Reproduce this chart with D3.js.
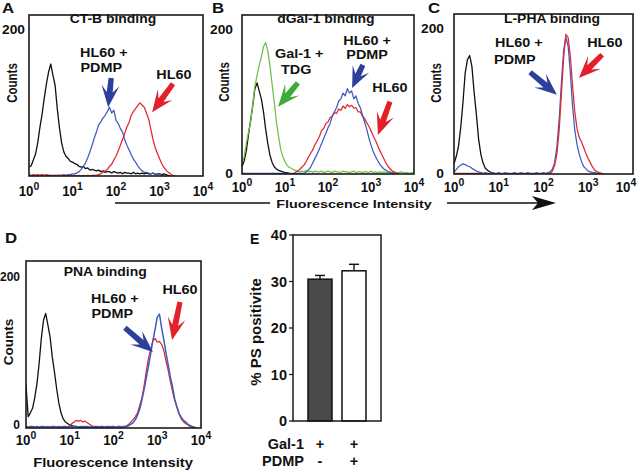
<!DOCTYPE html>
<html><head><meta charset="utf-8">
<script src="https://cdn.jsdelivr.net/npm/d3@7"></script>
<style>
html,body{margin:0;padding:0;background:#fff;}
svg{display:block;}
text{font-family:"Liberation Sans",Arial,sans-serif;font-weight:bold;fill:#111;}
</style></head><body>
<svg id="c" width="640" height="470"></svg>
<script>
// ---------- DATA ----------
// Histogram counts per bin; bin i sits at fluorescence 10^(i*binStep)
const binStep = 0.05;
const xTickValues = [1, 10, 100, 1000, 10000];

// Panel A : CT-B binding
const aBlack = [12,14,22,30,45,66,84,106,126,142,153,138,124,92,66,45,33,27,24,20,19,17,16,13,12,13,10,11,8,9,8,7,8,6,7,5,6,6,4,6,5,4,5,3,5,4,4,3,5,3,4,3,4,3,4,3,3,4,2,3,3,2,3,2,1,0];
const aBlue  = [1,0,1,1,0,1,1,0,1,1,1,0,1,1,1,1,2,1,2,2,3,3,4,6,9,13,18,25,33,42,52,60,70,74,79,83,88,94,86,90,76,72,65,60,50,42,36,29,23,19,14,10,7,5,5,4,3,4,2,3,2,1,0];
const aRed   = [2,1,2,1,2,1,2,1,2,1,1,1,1,1,1,1,0,1,0,1,0,1,0,1,0,1,0,1,0,1,1,1,2,3,5,7,9,13,16,22,27,34,42,50,58,67,73,83,88,92,96,100,97,94,86,78,64,50,39,31,24,17,12,8,5,3,1,0];

// Panel B : dGal-1 binding
const bBlack = [10,18,32,54,74,95,118,126,115,104,86,62,42,26,16,10,7,5,4,3,2,2,1,0];
const bGreen = [14,24,42,58,72,95,122,136,150,162,176,182,170,150,124,100,72,52,34,24,17,12,9,8,6,5,4,3,4,3,5,3,4,2,4,3,3,4,2,3,4,3,2,4,3,3,2,4,3,3,2,3,4,2,3,3,2,3,3,2,4,2,3,2,3,2,3,2,2,3,2,3,2,2,3,2,2,2,1,2,1];
const bBlue  = [1,1,1,1,1,1,1,1,1,1,1,1,1,1,1,1,1,1,1,1,1,1,1,1,1,1,1,1,1,1,3,6,10,16,22,28,35,42,49,56,64,70,80,86,92,101,104,112,108,118,112,115,104,108,98,92,82,72,62,50,40,31,25,19,14,10,7,5,3,2,1,0];
const bRed   = [0,0,0,0,0,0,0,0,0,0,0,0,0,0,0,0,0,0,0,0,0,0,0,0,0,3,4,7,10,13,18,24,29,34,41,46,52,60,63,70,72,78,80,85,84,90,88,94,91,96,93,95,91,92,86,86,80,77,71,66,60,53,47,40,33,27,21,15,10,7,4,2,1,0];

// Panel C : L-PHA binding
const cBlack = [14,24,38,64,98,139,157,163,148,112,82,48,27,15,8,5,3,2,1,0];
const cBlue  = [3,6,10,12,14,13,11,10,8,6,4,3,2,1,2,1,1,2,1,1,2,1,1,2,1,1,1,2,1,1,2,1,1,2,1,1,1,2,1,1,2,1,2,3,7,16,38,75,125,170,188,176,139,93,60,40,27,17,10,7,4,3,2,2,1,0];
const cRed   = [1,1,1,1,1,1,1,1,1,1,1,1,1,0,0,0,0,0,0,0,0,0,0,0,0,0,0,0,0,0,0,0,0,0,0,0,0,0,0,0,0,0,0,1,4,12,28,60,110,160,192,188,162,121,85,62,50,44,36,28,21,15,9,5,3,2,1,0];

// Panel D : PNA binding
const dBlack = [57,15,20,26,40,58,85,118,142,151,136,120,94,74,52,33,20,12,8,6,4,3,2,2,1,1,2,1,1,1,0,1,1,0,1,0,1,0,0,1,0];
const dBlue  = [2,1,2,2,1,2,1,2,2,1,2,1,2,2,1,2,1,2,2,1,2,1,2,2,1,2,1,2,2,1,2,1,2,2,1,2,1,2,2,1,2,1,2,2,1,2,2,3,5,7,11,17,25,37,51,66,82,98,115,130,146,150,132,116,99,83,67,54,38,28,19,14,10,8,5,3,2,1,0];
const dRed   = [1,1,1,1,1,1,1,1,1,1,1,1,1,1,1,1,1,1,1,1,3,6,8,10,9,10,8,9,7,5,3,2,2,1,2,2,1,2,1,2,2,1,2,1,2,2,3,5,8,11,15,20,30,40,56,75,92,104,115,118,113,114,110,102,88,76,61,48,36,27,18,12,8,6,4,2,1,0];

// Panel E : % PS positive
const eGroups   = ['HL60', 'HL60 + PDMP'];
const eValues   = [30.5, 32.3];
const eErrors   = [0.8, 1.4];
const eTicks    = [0, 10, 20, 30, 40];
const eGal1     = ['+', '+'];
const ePDMP     = ['-', '+'];

// ---------- STYLE ----------
const BLACK = '#111', BLUE = '#3d5cbc', RED = '#e4262d', GREEN = '#6cc04a';
const BLUE_A = '#2d3f9a', RED_A = '#e2202a', GREEN_A = '#3dab3a';

const svg = d3.select('#c');

function T(parent, x, y, s, o = {}) {
  const t = parent.append('text')
    .attr('transform', `translate(${x},${y}) scale(${o.sx || 1},1)` + (o.rot ? ` rotate(${o.rot})` : ''))
    .attr('text-anchor', o.anchor || 'middle')
    .style('font-size', (o.fs || 12) + 'px');
  if (o.dy) t.attr('dy', o.dy);
  if (o.fill) t.style('fill', o.fill);
  t.text(s);
  return t;
}

function arrowPath(x1, y1, x2, y2) { // tail -> tip
  const L = Math.hypot(x2 - x1, y2 - y1), a = Math.atan2(y2 - y1, x2 - x1);
  const wb = Math.min(22, 0.82 * L), nb = Math.min(15, 0.56 * L);
  const pts = [[0,0],[-wb,-9],[-nb,-3],[-L,-2.6],[-L,2.6],[-nb,3],[-wb,9]];
  return 'M' + pts.map(([u, v]) => [x2 + u * Math.cos(a) - v * Math.sin(a), y2 + u * Math.sin(a) + v * Math.cos(a)]
    .map(n => n.toFixed(1)).join(',')).join('L') + 'Z';
}

const panels = [
  { id:'A', x0:29, x1:203, y0:15, y1:176, title:'CT-B binding', titleD:1.93, titleY:23,
    yTicks:[200], gap:4, zeroDy:0, tickY:196, countsX:12, countsY:83, countsFs:11.5, countsSx:1.3, yLabSx:1.15,
    letter:[2,13],
    series:[[aBlack,BLACK,1.3],[aBlue,BLUE,1.25],[aRed,RED,1.25]],
    texts:[['HL60 +',1.72,169],['PDMP',1.66,148],['HL60',3.33,139]],
    arrows:[[1.89,134,1.82,94,BLUE_A],[3.31,126,2.83,87,RED_A]] },
  { id:'B', x0:242, x1:414, y0:15, y1:174, title:'dGal-1 binding', titleD:1.95, titleY:23,
    yTicks:[0,200], gap:9, zeroDy:0, tickY:192, countsX:224, countsY:82, countsFs:11.5, countsSx:1.3, yLabSx:1.15,
    letter:[212,13],
    series:[[bBlack,BLACK,1.3],[bGreen,GREEN,1.25],[bRed,RED,1.25],[bBlue,BLUE,1.25]],
    texts:[['Gal-1 +',1.33,167],['TDG',1.26,144],['HL60 +',2.91,185],['PDMP',2.91,165],['HL60',3.44,119]],
    arrows:[[1.30,126,0.84,93,GREEN_A],[2.81,151,2.56,119,BLUE_A],[3.44,100,3.16,54,RED_A]] },
  { id:'C', x0:454, x1:633, y0:14, y1:174, title:'L-PHA binding', titleD:2.19, titleY:23,
    yTicks:[0,200], gap:10, zeroDy:0, tickY:192, countsX:436, countsY:83, countsFs:11.5, countsSx:1.3, yLabSx:1.15,
    letter:[428,13],
    series:[[cBlack,BLACK,1.3],[cBlue,BLUE,1.25],[cRed,RED,1.25]],
    texts:[['HL60 +',1.45,180],['PDMP',1.36,157],['HL60',3.37,181]],
    arrows:[[1.70,140,2.30,109,BLUE_A],[3.31,164,2.79,132,RED_A]] },
  { id:'D', x0:26, x1:201, y0:261, y1:428, title:'PNA binding', titleD:1.81, titleY:276,
    yTicks:[0,200], gap:6, zeroDy:-3, tickY:445, countsX:8, countsY:342, countsFs:13.5, countsSx:1.0, yLabSx:1.0,
    letter:[5,243],
    series:[[dBlack,BLACK,1.3],[dRed,RED,1.25],[dBlue,BLUE,1.5]],
    texts:[['HL60 +',2.03,171],['PDMP',1.97,151],['HL60',3.52,182]],
    arrows:[[2.26,132,2.90,100,BLUE_A],[3.52,166,3.34,116,RED_A]] }
];

panels.forEach(p => {
  const g = svg.append('g');
  const xs = d3.scaleLog().domain([1, 1e4]).range([p.x0, p.x1]);
  const ys = d3.scaleLinear().domain([0, 220]).range([p.y1, p.y0]);
  const cid = 'clip' + p.id;
  svg.append('clipPath').attr('id', cid).append('rect')
    .attr('x', p.x0).attr('y', p.y0).attr('width', p.x1 - p.x0).attr('height', p.y1 - p.y0);
  const line = d3.line().x((v, i) => xs(Math.pow(10, i * binStep))).y(v => ys(v));
  const cg = g.append('g').attr('clip-path', `url(#${cid})`);
  p.series.forEach(([arr, col, w]) => cg.append('path').attr('d', line(arr))
    .attr('fill', 'none').attr('stroke', col).attr('stroke-width', w).attr('stroke-linejoin', 'round'));
  g.append('rect').attr('x', p.x0).attr('y', p.y0).attr('width', p.x1 - p.x0).attr('height', p.y1 - p.y0)
    .attr('fill', 'none').attr('stroke', '#1a1a1a').attr('stroke-width', 1.6);
  // x tick labels (kept inside the 640px canvas)
  xTickValues.forEach((v, k) => {
    const t = T(g, Math.min(xs(v), 626), p.tickY, '', { fs: 14, sx: 0.95 });
    t.append('tspan').text('10');
    t.append('tspan').attr('dy', -6).style('font-size', '11px').text(String(k));
  });
  // y labels
  p.yTicks.forEach(v => T(g, p.x0 - p.gap, ys(v) + (v === 0 ? p.zeroDy : 0), String(v),
    { fs: 12, sx: p.yLabSx, anchor: 'end', dy: '0.36em' }));
  T(g, p.countsX, p.countsY, 'Counts', { fs: p.countsFs, sx: p.countsSx, rot: -90, dy: '0.36em' });
  T(g, xs(Math.pow(10, p.titleD)), p.titleY, p.title, { fs: 12, sx: 1.16 });
  T(g, p.letter[0], p.letter[1], p.id, { fs: 14, sx: 1.2, anchor: 'start' });
  p.texts.forEach(([s, d, c]) => T(g, xs(Math.pow(10, d)), ys(c), s, { fs: 12, sx: 1.2, dy: '0.36em' }));
  p.arrows.forEach(([d1, c1, d2, c2, col]) => g.append('path')
    .attr('d', arrowPath(xs(Math.pow(10, d1)), ys(c1), xs(Math.pow(10, d2)), ys(c2))).attr('fill', col));
});

// shared x-axis caption with arrow
const cap = svg.append('g');
cap.append('line').attr('x1', 115).attr('x2', 270).attr('y1', 203).attr('y2', 203).attr('stroke', '#111').attr('stroke-width', 1.5);
cap.append('line').attr('x1', 447).attr('x2', 540).attr('y1', 203).attr('y2', 203).attr('stroke', '#111').attr('stroke-width', 1.5);
cap.append('path').attr('d', 'M556,203L532,196L538,203L532,210Z').attr('fill', '#111');
T(cap, 354, 208, 'Fluorescence Intensity', { fs: 11.6, sx: 1.24 });
T(cap, 113, 467, 'Fluorescence Intensity', { fs: 12.5, sx: 1.18 });

// ---------- Panel E ----------
const eg = svg.append('g');
const ey = d3.scaleLinear().domain([0, 40]).range([421, 235]);
const ex = d3.scaleBand().domain(eGroups).range([293, 381]).paddingInner(0.294).paddingOuter(0.441);
eGroups.forEach((grp, i) => {
  const x = ex(grp), w = ex.bandwidth(), cx = x + w / 2;
  eg.append('line').attr('x1', cx).attr('x2', cx).attr('y1', ey(eValues[i])).attr('y2', ey(eValues[i] + eErrors[i]))
    .attr('stroke', '#111').attr('stroke-width', 1.4);
  eg.append('line').attr('x1', cx - 5).attr('x2', cx + 5).attr('y1', ey(eValues[i] + eErrors[i])).attr('y2', ey(eValues[i] + eErrors[i]))
    .attr('stroke', '#111').attr('stroke-width', 1.4);
  eg.append('rect').attr('x', x).attr('width', w).attr('y', ey(eValues[i])).attr('height', ey(0) - ey(eValues[i]))
    .attr('fill', i === 0 ? '#4a4a4a' : '#fff').attr('stroke', '#111').attr('stroke-width', 1.5);
  T(eg, cx, 449, eGal1[i], { fs: 14.5 });
  T(eg, cx, 466, ePDMP[i], { fs: 14.5 });
});
eg.append('rect').attr('x', 293).attr('y', 235).attr('width', 88).attr('height', 186)
  .attr('fill', 'none').attr('stroke', '#1a1a1a').attr('stroke-width', 1.5);
eTicks.forEach(t => {
  eg.append('line').attr('x1', 289).attr('x2', 293).attr('y1', ey(t)).attr('y2', ey(t)).attr('stroke', '#111').attr('stroke-width', 1.2);
  T(eg, 287, ey(t), String(t), { fs: 14.5, anchor: 'end', dy: '0.36em' });
});
T(eg, 256, 332, '% PS positivite', { fs: 15, rot: -90, dy: '0.36em' });
T(eg, 250, 244, 'E', { fs: 14, anchor: 'start' });
T(eg, 304, 449, 'Gal-1', { fs: 14.5, anchor: 'end' });
T(eg, 304, 466, 'PDMP', { fs: 14.5, anchor: 'end' });
</script>
</body></html>
